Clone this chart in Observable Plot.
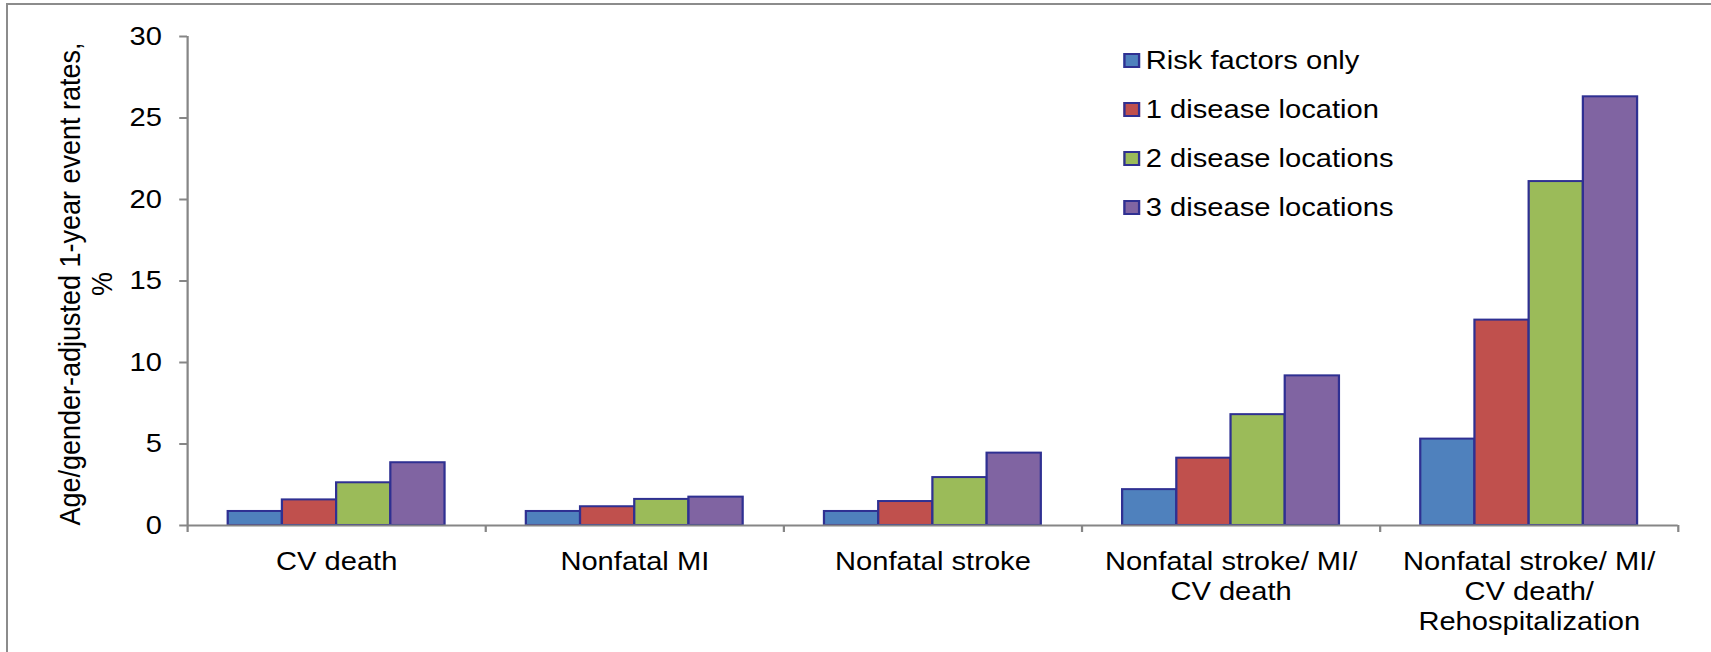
<!DOCTYPE html>
<html>
<head>
<meta charset="utf-8">
<script src="https://cdn.jsdelivr.net/npm/d3@7"></script>
<script src="https://cdn.jsdelivr.net/npm/@observablehq/plot@0.6"></script>
<style>
  html, body { margin: 0; padding: 0; background: #fff; }
  #stage { position: relative; width: 1711px; height: 652px; overflow: hidden; background: #fff; }
  #border {
    position: absolute; left: 6px; top: 3px; right: -20px; bottom: -20px;
    border-left: 2.5px solid #8c8c8c; border-top: 2px solid #8c8c8c;
  }
  /* the chart is drawn narrower and widened horizontally, as the slide graphic was */
  #chart { position: absolute; left: 0; top: 0; transform-origin: 0 0; }
  #legend {
    position: absolute; font-family: "Liberation Sans", Arial, sans-serif;
    font-size: 26px; color: #000;
  }
  #legend .row { display: flex; align-items: center; white-space: nowrap; }
  #legend .sw { box-sizing: border-box; width: 15px; height: 15px; border: 2px solid #2F3092; margin-right: 5px; }
</style>
</head>
<body>
<div id="stage">
  <div id="border"></div>
  <div id="chart"></div>
</div>
<script>
// Age/gender-adjusted 1-year event rates (%) by number of disease locations
const categories = [
  "CV death",
  "Nonfatal MI",
  "Nonfatal stroke",
  "Nonfatal stroke/ MI/\nCV death",
  "Nonfatal stroke/ MI/\nCV death/\nRehospitalization"
];
const seriesNames = ["Risk factors only", "1 disease location", "2 disease locations", "3 disease locations"];
const seriesColors = ["#4F81BD", "#C0504D", "#9BBB59", "#8064A2"];

const riskFactorsOnly = [0.86, 0.86, 0.86, 2.2, 5.3];
const oneLocation     = [1.57, 1.15, 1.47, 4.13, 12.6];
const twoLocations    = [2.62, 1.6, 2.94, 6.8, 21.1];
const threeLocations  = [3.85, 1.74, 4.44, 9.18, 26.3];

const yTicks = [0, 5, 10, 15, 20, 25, 30];
const yLabel = "Age/gender-adjusted 1-year event rates,\n%";

const seriesValues = [riskFactorsOnly, oneLocation, twoLocations, threeLocations];

// long-format rows for the grouped bars
const rows = [];
categories.forEach((c, i) => {
  seriesNames.forEach((s, j) => {
    rows.push({ category: c, ci: i, series: s, si: j, value: seriesValues[j][i] });
  });
});

// each category occupies one unit on x; bars fill it with a 150% gap width
const gapWidth = 1.5;
const slot = 1 / (seriesNames.length + gapWidth);
const barX1 = d => d.ci + (gapWidth / 2 + d.si) * slot;
const barX2 = d => d.ci + (gapWidth / 2 + d.si + 1) * slot;

const STRETCH = 1.12;
const W = 1711 / STRETCH;
const axisGray = "#868686";
const font = "'Liberation Sans', Arial, sans-serif";

const plot = Plot.plot({
  width: W,
  height: 652,
  marginLeft: 167,
  marginRight: W - 1498,
  marginTop: 36,
  marginBottom: 127,
  x: { domain: [0, categories.length], axis: null },
  y: { domain: [0, 30], axis: null },
  color: { domain: seriesNames, range: seriesColors },
  style: { fontFamily: font, fontSize: "26px", color: "#000", background: "transparent", overflow: "visible" },
  marks: [
    Plot.rectY(rows, {
      x1: barX1, x2: barX2, y1: 0, y2: "value",
      fill: "series", stroke: "#2F3092", strokeWidth: 2
    }),
    Plot.ruleY([0], { stroke: axisGray, strokeWidth: 2 }),
    Plot.ruleX([0], { y1: 0, y2: 30, stroke: axisGray, strokeWidth: 2 }),
    Plot.axisY({
      ticks: yTicks, tickSize: 7, tickPadding: 16, stroke: axisGray, strokeWidth: 2,
      fontSize: 26, fill: "#000", label: null
    }),
    Plot.axisX({
      ticks: d3.range(categories.length + 1), tickSize: 7, tickFormat: () => "",
      stroke: axisGray, strokeWidth: 2, label: null
    }),
    Plot.text(categories, {
      x: (d, i) => i + 0.5, y: () => 0, text: d => d,
      lineAnchor: "top", dy: 23, lineHeight: 1.16, fontSize: 26, fill: "#000"
    }),
    Plot.text([yLabel], {
      frameAnchor: "left", textAnchor: "middle", dx: -91, dy: 3, rotate: -90,
      lineHeight: 1.05, fontSize: 27, fill: "#000"
    })
  ]
});

const chart = document.getElementById("chart");
chart.style.width = W + "px";
chart.style.transform = `scaleX(${STRETCH})`;
chart.appendChild(plot);

// legend, placed in the upper right of the plotting area
const legend = document.createElement("div");
legend.id = "legend";
legend.style.left = "1003px";
legend.style.top = "35.5px";
seriesNames.forEach((name, j) => {
  const row = document.createElement("div");
  row.className = "row";
  row.style.height = "49px";
  const sw = document.createElement("div");
  sw.className = "sw";
  sw.style.background = seriesColors[j];
  const label = document.createElement("span");
  label.textContent = name;
  row.appendChild(sw);
  row.appendChild(label);
  legend.appendChild(row);
});
chart.appendChild(legend);
</script>
</body>
</html>
